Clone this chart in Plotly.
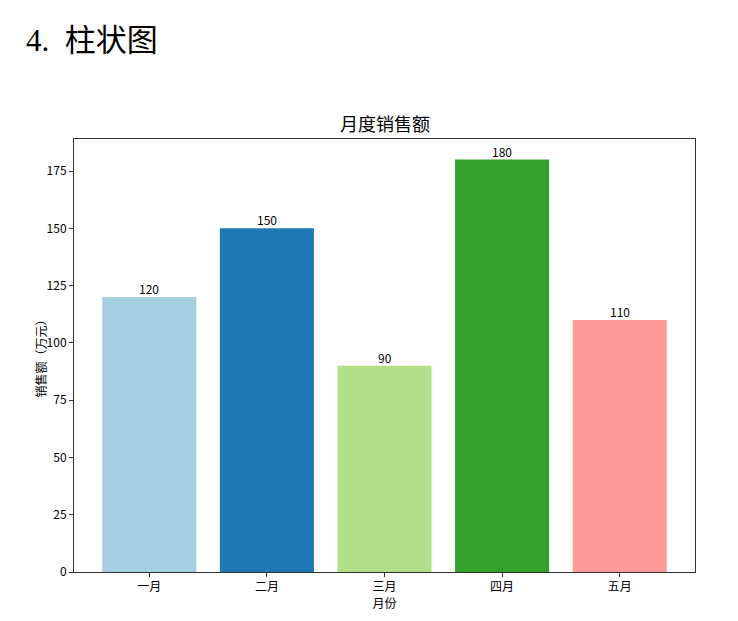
import plotly.graph_objects as go

# 月度销售额数据
months = ["一月", "二月", "三月", "四月", "五月"]
sales = [120, 150, 90, 180, 110]
bar_colors = ["#a6cee3", "#1f77b4", "#b2df8a", "#33a02c", "#fb9a99"]
y_ticks = [0, 25, 50, 75, 100, 125, 150, 175]

cjk = "Noto Sans CJK SC, Noto Sans, sans-serif"

fig = go.Figure()
fig.add_trace(go.Bar(x=months,
                     y=sales,
                     width=0.8,
                     marker=dict(color=bar_colors, line_width=0),
                     showlegend=False))

# 柱顶数值标签
labels = [dict(x=m, y=v, text=str(v), xref="x", yref="y",
               xanchor="center", yanchor="bottom", showarrow=False,
               yshift=-2, font=dict(family=cjk, size=12, color="#000000"))
          for m, v in zip(months, sales)]

heading = dict(text="4.  柱状图", xref="paper", yref="paper",
               x=(24 - 74) / 621, y=1 + (139 - 40) / 433,
               xanchor="left", yanchor="middle", showarrow=False,
               font=dict(family="Liberation Serif, Noto Sans CJK SC",
                         size=31, color="#000000"))

ytitle = dict(text="销售额（万元）", xref="paper", yref="paper",
              x=(40 - 74) / 621, y=0.5, textangle=-90,
              xanchor="center", yanchor="middle", showarrow=False,
              font=dict(family=cjk, size=12, color="#000000"))

fig.update_layout(width=738, height=621,
                  paper_bgcolor="white", plot_bgcolor="white",
                  margin=dict(l=66, r=51, t=131, b=57),
                  font=dict(family=cjk, size=12, color="#000000"),
                  title=dict(text="月度销售额", x=(385 - 8) / 738, xanchor="center",
                             y=1 - 117 / 621, yanchor="middle",
                             font=dict(family=cjk, size=18, color="#000000")),
                  annotations=labels + [heading, ytitle])

fig.update_xaxes(range=[-0.64, 4.64],
                 showline=True, linecolor="#333333", linewidth=1, mirror=True,
                 ticks="outside", ticklen=4, tickcolor="#333333",
                 showgrid=False, zeroline=False,
                 title=dict(text="月份", standoff=2, font=dict(size=12)))
fig.update_yaxes(range=[0, 189], tickvals=y_ticks,
                 showline=True, linecolor="#333333", linewidth=1, mirror=True,
                 ticks="outside", ticklen=4, tickcolor="#333333",
                 showgrid=False, zeroline=False)

fig.write_html("out.html")
